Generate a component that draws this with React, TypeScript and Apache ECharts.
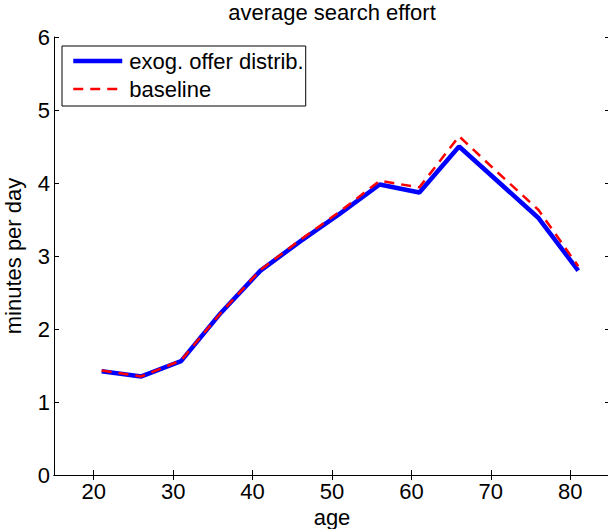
import React, { useEffect, useRef } from "react";
import * as echarts from "echarts";

const ages = [21, 26, 31, 36, 41, 46, 51, 56, 61, 66, 71, 76, 81];
const exogOffer = [1.42, 1.35, 1.56, 2.22, 2.8, 3.2, 3.58, 3.98, 3.87, 4.5, 4.01, 3.52, 2.8];
const baseline = [1.43, 1.35, 1.57, 2.22, 2.81, 3.22, 3.61, 4.03, 3.94, 4.64, 4.13, 3.63, 2.86];
const xTicks = [20, 30, 40, 50, 60, 70, 80];

const FONT = "'Liberation Sans', Arial, Helvetica, sans-serif";
const FS = 22;

export default function App() {
  const ref = useRef<HTMLDivElement>(null);
  useEffect(() => {
    if (!ref.current) return;
    const chart = echarts.init(ref.current, undefined, { renderer: "svg" });
    const axisLine = { show: true, lineStyle: { color: "#000", width: 1 } };
    chart.setOption({
      animation: false,
      backgroundColor: "#fff",
      textStyle: { fontFamily: FONT },
      title: {
        text: "average search effort",
        left: 332,
        top: 1,
        padding: 0,
        textAlign: "center",
        textStyle: { fontFamily: FONT, fontSize: FS, fontWeight: "normal", color: "#000" },
      },
      legend: {
        orient: "vertical",
        left: 62,
        top: 46,
        padding: [4, 2, 6, 9],
        itemGap: 6,
        itemWidth: 49,
        itemHeight: 14,
        borderColor: "#000",
        borderWidth: 1,
        backgroundColor: "#fff",
        borderRadius: 0,
        itemStyle: { opacity: 0, borderWidth: 0 },
        textStyle: { fontFamily: FONT, fontSize: FS, color: "#000", padding: [0, 0, 0, 2] },
        data: [
          { name: "exog. offer distrib.", lineStyle: { width: 4.5, color: "#0000ff" } },
          { name: "baseline", lineStyle: { width: 2.5, color: "#ff0000", type: [10, 7] } },
        ],
      },
      grid: { left: 54, right: -2, top: 37, bottom: 54, containLabel: false, outerBoundsMode: "none" },
      xAxis: [
        {
          type: "value",
          min: 15,
          max: 85,
          position: "bottom",
          name: "age",
          nameLocation: "middle",
          nameGap: 27,
          nameTextStyle: { fontFamily: FONT, fontSize: FS, color: "#000" },
          axisLine,
          axisTick: { show: true, inside: true, length: 5, customValues: xTicks, lineStyle: { color: "#000" } },
          axisLabel: { show: true, customValues: xTicks, margin: 5, fontFamily: FONT, fontSize: FS, color: "#000" },
          splitLine: { show: false },
        },
        {
          type: "value",
          min: 15,
          max: 85,
          position: "top",
          axisLine,
          axisTick: { show: true, inside: true, length: 5, customValues: xTicks, lineStyle: { color: "#000" } },
          axisLabel: { show: false },
          splitLine: { show: false },
        },
      ],
      yAxis: [
        {
          type: "value",
          min: 0,
          max: 6,
          interval: 1,
          position: "left",
          name: "minutes per day",
          nameLocation: "middle",
          nameRotate: 90,
          nameGap: 30,
          nameTextStyle: { fontFamily: FONT, fontSize: FS, color: "#000" },
          axisLine,
          axisTick: { show: true, inside: true, length: 5, lineStyle: { color: "#000" } },
          axisLabel: { show: true, margin: 4, fontFamily: FONT, fontSize: FS, color: "#000" },
          splitLine: { show: false },
        },
        {
          type: "value",
          min: 0,
          max: 6,
          interval: 1,
          position: "right",
          axisLine,
          axisTick: { show: true, inside: true, length: 5, lineStyle: { color: "#000" } },
          axisLabel: { show: false },
          splitLine: { show: false },
        },
      ],
      series: [
        {
          name: "exog. offer distrib.",
          type: "line",
          data: ages.map((a, i) => [a, exogOffer[i]]),
          symbol: "none",
          lineStyle: { color: "#0000ff", width: 4.5 },
          itemStyle: { color: "#0000ff" },
        },
        {
          name: "baseline",
          type: "line",
          data: ages.map((a, i) => [a, baseline[i]]),
          symbol: "none",
          lineStyle: { color: "#ff0000", width: 2.5, type: [10, 7] },
          itemStyle: { color: "#ff0000" },
        },
      ],
    });
    return () => chart.dispose();
  }, []);
  return (
    <div
      ref={ref}
      style={{ position: "absolute", left: 0, top: 0, width: 608, height: 529 }}
    />
  );
}
